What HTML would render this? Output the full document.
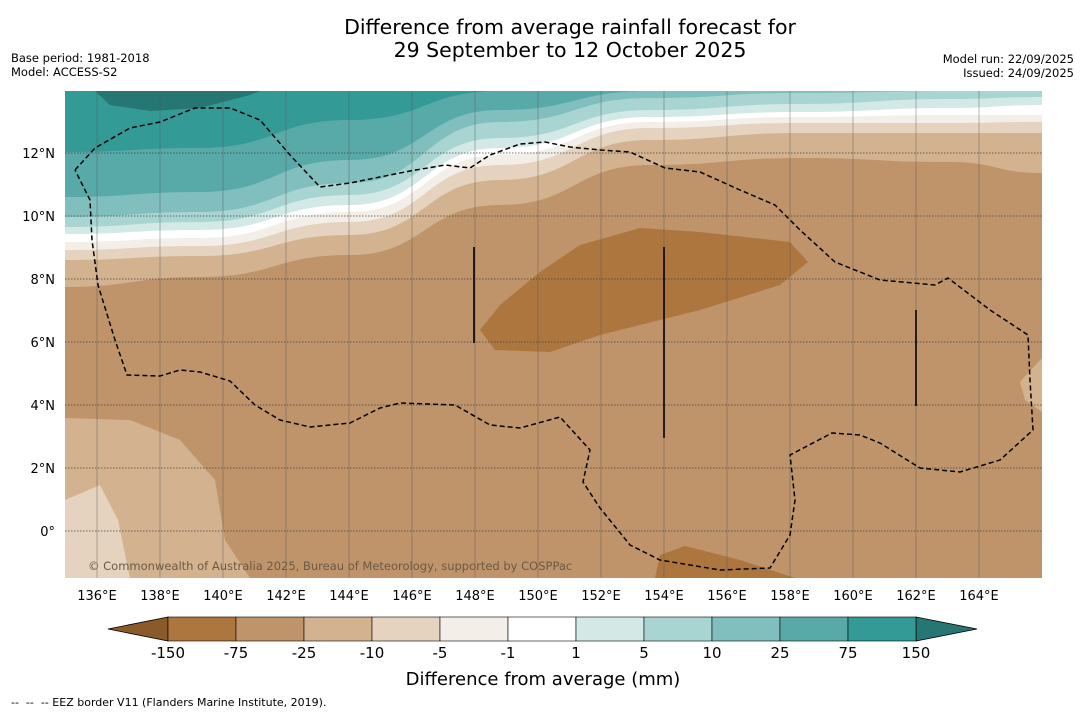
<!DOCTYPE html>
<html><head><meta charset="utf-8"><style>
body{margin:0;background:#fff;width:1085px;height:713px;overflow:hidden;font-family:"Liberation Sans","DejaVu Sans",sans-serif}
svg text{font-family:"DejaVu Sans","Liberation Sans",sans-serif}
</style></head><body>
<svg id="s" width="1085" height="713">
<text x="570" y="34" font-size="20.5" text-anchor="middle">Difference from average rainfall forecast for</text>
<text x="570" y="57" font-size="20.5" text-anchor="middle">29 September to 12 October 2025</text>
<text x="11" y="62" font-size="11.5">Base period: 1981-2018</text>
<text x="11" y="76" font-size="11.5">Model: ACCESS-S2</text>
<text x="1074" y="63" font-size="11.5" text-anchor="end">Model run: 22/09/2025</text>
<text x="1074" y="77" font-size="11.5" text-anchor="end">Issued: 24/09/2025</text>
<defs><clipPath id="mc"><rect x="65" y="91" width="977" height="487"/></clipPath></defs>
<g clip-path="url(#mc)" id="map">
<rect x="65" y="91" width="977" height="487" fill="#bf946a"/>
</g>
<g id="cbar"></g>
<text x="543" y="685" font-size="18" text-anchor="middle">Difference from average (mm)</text>
<text x="11" y="706" font-size="11" xml:space="preserve">--  --  -- EEZ border V11 (Flanders Marine Institute, 2019).</text>
</svg>
<script>
const NS='http://www.w3.org/2000/svg';
const lonTicks=[136,138,140,142,144,146,148,150,152,154,156,158,160,162,164];
const latTicks=[0,2,4,6,8,10,12];
const levels=['-150','-75','-25','-10','-5','-1','1','5','10','25','75','150'];
const colors=['#ad763f','#bf946a','#d3b28f','#e5d2bf','#f3eee7','#ffffff','#d2e9e6','#a8d5d2','#80bfbe','#58aaa8','#339a96'];
const xs=lon=>97+(lon-136)*31.5, ys=lat=>531-lat*31.5;
function mk(t,a,p){const e=document.createElementNS(NS,t);for(const k in a)e.setAttribute(k,a[k]);p.appendChild(e);return e;}
const map=document.getElementById('map');
function smooth(pts){let d='M'+pts[0].join(',');for(let i=1;i<pts.length;i++){const p0=pts[i-1],p1=pts[i];const mx=(p0[0]+p1[0])/2;d+=`C${mx},${p0[1]} ${mx},${p1[1]} ${p1[0]},${p1[1]}`;}return d;}
function band(pts,fill,name){const d='M'+pts.map(p=>p.join(',')).join('L')+'Z';const e=mk('path',{d:d,fill:fill},map);

}
function bandCurve(curve,fill,name){const d=smooth(curve)+`L1042,91L65,91Z`;const e=mk('path',{d:d,fill:fill},map);

}
const bx=[65,200,350,500,650,800,950,1042];
const bounds=[
['#d3b28f',[287,277,255,205,165,158,162,173]],
['#e5d2bf',[260,256,235,180,140,133,133,133]],
['#f3eee7',[250,246,222,165,128,123,123,122]],
['#ffffff',[242,238,212,155,122,117,115,115]],
['#d2e9e6',[234,230,205,148,117,112,108,105]],
['#a8d5d2',[227,222,195,138,110,104,99,97]],
['#80bfbe',[217,212,183,122,98,93,91,91]],
['#58aaa8',[197,192,160,110,91,91,91,91]],
['#339a96',[152,148,120,91,91,91,91,91]]];
bounds.forEach((b,i)=>{const pts=bx.map((x,j)=>[x,b[1][j]]);bandCurve(pts,b[0],'contour-band-'+i);});
band([[95,91],[110,105],[150,111],[200,108],[250,95],[260,91]],'#267773','contour-band-150');
band([[65,418],[130,420],[180,440],[215,480],[225,540],[250,578],[65,578]],'#d3b28f','contour-band-sw-light');
band([[65,500],[100,485],[118,520],[130,578],[65,578]],'#e5d2bf','contour-band-sw-lighter');
band([[1042,358],[1020,382],[1025,400],[1042,412]],'#d3b28f','contour-band-east');
band([[480,330],[495,350],[550,352],[600,335],[700,310],[780,285],[808,262],[790,242],[700,232],[640,228],[580,245],[540,272],[500,305]],'#ad763f','contour-band-dry-center');
band([[655,578],[660,555],[685,546],[740,560],[795,578]],'#ad763f','contour-band-dry-south');
lonTicks.forEach(l=>{const e=mk('line',{x1:xs(l),x2:xs(l),y1:91,y2:578,stroke:'#555','stroke-width':0.6,'stroke-opacity':0.7},map);

});
latTicks.forEach(l=>{const e=mk('line',{x1:65,x2:1042,y1:ys(l),y2:ys(l),stroke:'#444','stroke-width':0.7,'stroke-dasharray':'1.5,1.5'},map);

});
const eez=[[75,170],[95,148],[130,128],[160,122],[195,108],[230,108],[260,120],[290,155],[320,187],[350,183],[380,177],[410,171],[445,165],[470,168],[490,155],[520,144],[545,142],[570,147],[600,150],[630,152],[665,168],[700,172],[740,190],[775,205],[800,230],[835,262],[880,280],[935,285],[948,278],[990,310],[1028,335],[1030,380],[1033,430],[1000,460],[960,472],[920,468],[880,443],[860,435],[832,433],[790,455],[795,500],[790,535],[770,568],[720,570],[660,560],[630,545],[600,508],[583,482],[590,450],[560,417],[520,428],[490,425],[455,405],[400,403],[380,408],[350,423],[310,427],[280,420],[255,405],[230,381],[200,372],[180,370],[160,376],[127,375],[115,340],[98,285],[92,240],[90,200],[75,170]];
let e=mk('path',{d:'M'+eez.map(p=>p.join(',')).join('L'),fill:'none',stroke:'#000','stroke-width':1.5,'stroke-dasharray':'5,3'},map);


[[474,247,343],[664,247,438],[916,310,406]].forEach(v=>{const l=mk('line',{x1:v[0],x2:v[0],y1:v[1],y2:v[2],stroke:'#000','stroke-width':1.6},map);

});
const c=mk('text',{x:88,y:570,'font-size':11.5,fill:'#6b5a45'},map);c.textContent='© Commonwealth of Australia 2025, Bureau of Meteorology, supported by COSPPac';


const s=document.getElementById('s');
lonTicks.forEach(l=>{const t=mk('text',{x:xs(l),y:600,'font-size':13,'text-anchor':'middle'},s);t.textContent=l+'°E';

});
latTicks.forEach(l=>{const t=mk('text',{x:55,y:ys(l)+5,'font-size':13,'text-anchor':'end'},s);t.textContent=l===0?'0°':l+'°N';

});
const cb=document.getElementById('cbar');const w=68,x0=168,y0=617,h=24;
let tr=mk('path',{d:`M${x0},${y0}L108,${y0+h/2}L${x0},${y0+h}Z`,fill:'#8b5a2b',stroke:'#000','stroke-width':0.8},cb);


const xe=x0+colors.length*w;
tr=mk('path',{d:`M${xe},${y0}L977,${y0+h/2}L${xe},${y0+h}Z`,fill:'#267773',stroke:'#000','stroke-width':0.8},cb);


colors.forEach((col,i)=>{const r=mk('rect',{x:x0+i*w,y:y0,width:w,height:h,fill:col,stroke:'#000','stroke-width':0.6},cb);

});
levels.forEach((l,i)=>{const t=mk('text',{x:x0+i*w,y:658,'font-size':15,'text-anchor':'middle'},cb);t.textContent=l;

});
</script>
</body></html>
